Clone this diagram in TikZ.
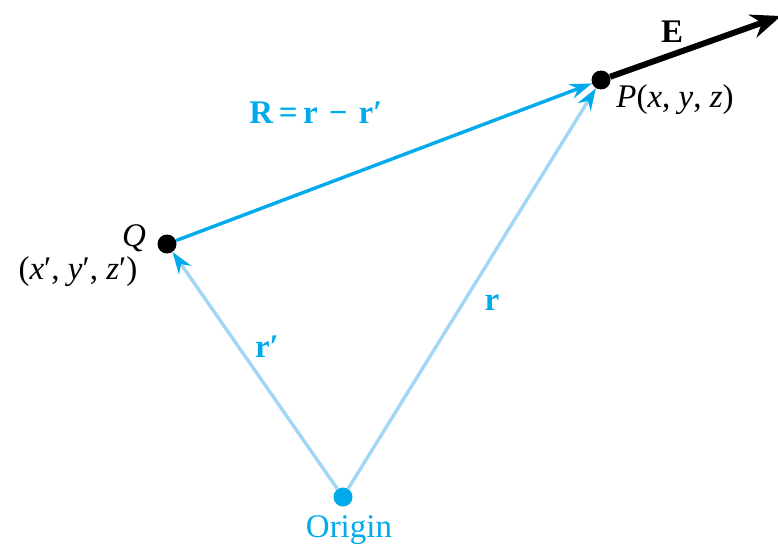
\documentclass[tikz,border=0pt]{standalone}
\usepackage{fontspec}
\setmainfont{Liberation Serif}
\usetikzlibrary{arrows.meta}
\definecolor{cyanB}{RGB}{0,170,235}
\definecolor{lightB}{RGB}{160,215,245}
\begin{document}
\begin{tikzpicture}[x=1pt,y=-1pt,
  dot/.style={circle,inner sep=0pt,minimum size=19pt},
  lbl/.style={font=\fontsize{33}{38}\selectfont,inner sep=0pt},
  blbl/.style={inner sep=0pt,font=\fontsize{33}{38}\selectfont\bfseries},
  vecR/.style={draw=cyanB,line width=3.4pt,-{Stealth[length=22pt,width=15pt]}},
  vecr/.style={draw=lightB,line width=3.4pt,-{Stealth[length=22pt,width=15pt,color=cyanB]}},
  vecE/.style={draw=black,line width=6pt,-{Stealth[length=30pt,width=24pt]}}]
\useasboundingbox (0,0) rectangle (778,548);
\node[dot,fill=cyanB] (O) at (343,497) {};
\node[dot,fill=black] (Q) at (167,244) {};
\node[dot,fill=black] (P) at (601,80) {};
\coordinate (Etip) at (781,16);
\draw[vecr] (O) -- (Q);
\draw[vecr] (O) -- (P);
\draw[vecR] (Q) -- (P);
\draw[vecE] (P) -- (Etip);
\node[lbl,text=cyanB] (olab) at (349,530) {Origin};
\node[lbl] (qlab) at (134,238) {\textit{Q}};
\node[lbl] (qc) at (78,272) {(\textit{x}′, \textit{y}′, \textit{z}′)};
\node[lbl] (plab) at (675,100) {\textit{P}(\textit{x}, \textit{y}, \textit{z})};
\node[blbl] (elab) at (672,32) {E};
\node[blbl,text=cyanB] (rlab) at (316,113) {R\,=\,r\,\,−\,\,r′};
\node[blbl,text=cyanB] (r1) at (492,303) {r};
\node[blbl,text=cyanB] (r2) at (267,347) {r′};
\end{tikzpicture}
\end{document}
